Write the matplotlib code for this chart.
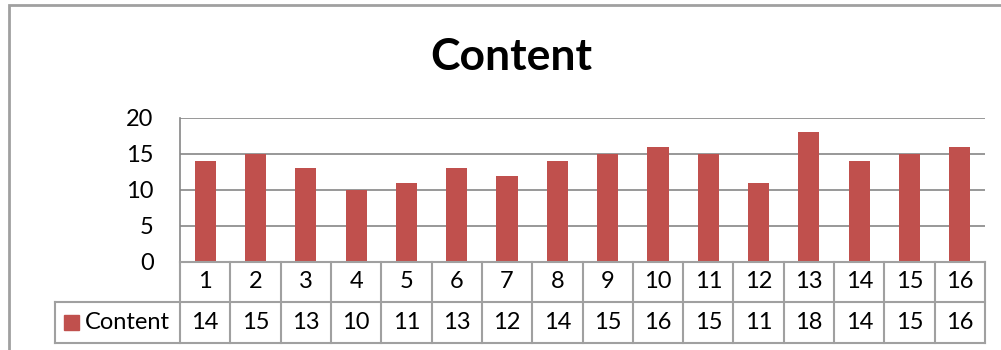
import matplotlib.pyplot as plt
from matplotlib.patches import Rectangle
import numpy as np

plt.rcParams['font.family'] = ['Lato', 'DejaVu Sans']

# values per item
items = list(range(1, 17))
content = [14, 15, 13, 10, 11, 13, 12, 14, 15, 16, 15, 11, 18, 14, 15, 16]
series_name = 'Content'
yticks = [0, 5, 10, 15, 20]

bar_color = '#C0504D'
line_color = '#A0A0A0'
fsize = 17

W, H = 1001, 350
fig = plt.figure(figsize=(W / 100, H / 100), dpi=100)

# plot area in pixels (left, top, right, bottom)
pl, pt, pr, pb = 180, 118, 985, 262
ax = fig.add_axes([pl / W, 1 - pb / H, (pr - pl) / W, (pb - pt) / H])

x = np.arange(len(items))
ax.bar(x, content, width=0.42, color=bar_color, zorder=3)
ax.set_xlim(-0.5, len(items) - 0.5)
ax.set_ylim(0, 20)
ax.set_yticks(yticks)
ax.set_yticklabels([str(t) for t in yticks], fontsize=fsize)
ax.tick_params(axis='y', length=0, pad=19)
ax.set_xticks([])
ax.grid(axis='y', color='#868686', linewidth=1.2, zorder=0)
for side in ['top', 'right', 'bottom']:
    ax.spines[side].set_visible(False)
ax.spines['left'].set_color('#868686')
ax.spines['left'].set_linewidth(1.2)

# outer chart frame
fig.patches.append(Rectangle((9 / W, -0.1), 1.1, 1 - 5 / H + 0.1,
                             transform=fig.transFigure, fill=False,
                             edgecolor=line_color, linewidth=2))

fig.text(511 / W, 1 - 57 / H, series_name, ha='center', va='center',
         fontsize=32, fontweight='bold')

# data table below the plot
r0, r1, r2 = 262, 302, 343
legend_left = 55
col_w = (pr - pl) / len(items)


def fy(py):
    return 1 - py / H


def fx(px):
    return px / W


def hline(x0, x1, y):
    fig.add_artist(plt.Line2D([fx(x0), fx(x1)], [fy(y), fy(y)],
                              color=line_color, linewidth=1.5))


def vline(xp, y0, y1):
    fig.add_artist(plt.Line2D([fx(xp), fx(xp)], [fy(y0), fy(y1)],
                              color=line_color, linewidth=1.5))


hline(pl, pr, r0)
hline(legend_left, pr, r1)
hline(legend_left, pr, r2)
vline(legend_left, r1, r2)
for i in range(len(items) + 1):
    vline(pl + i * col_w, r0, r2)

for i, (it, v) in enumerate(zip(items, content)):
    cx = pl + (i + 0.5) * col_w
    fig.text(fx(cx), fy((r0 + r1) / 2), str(it), ha='center', va='center',
             fontsize=fsize)
    fig.text(fx(cx), fy((r1 + r2) / 2), str(v), ha='center', va='center',
             fontsize=fsize)

# legend key inside the table
fig.patches.append(Rectangle((fx(64), fy(330)), 15 / W, 15 / H,
                             transform=fig.transFigure, color=bar_color))
fig.text(fx(85), fy((r1 + r2) / 2), series_name, ha='left', va='center',
         fontsize=fsize)

fig.savefig('out.png', dpi=100)
